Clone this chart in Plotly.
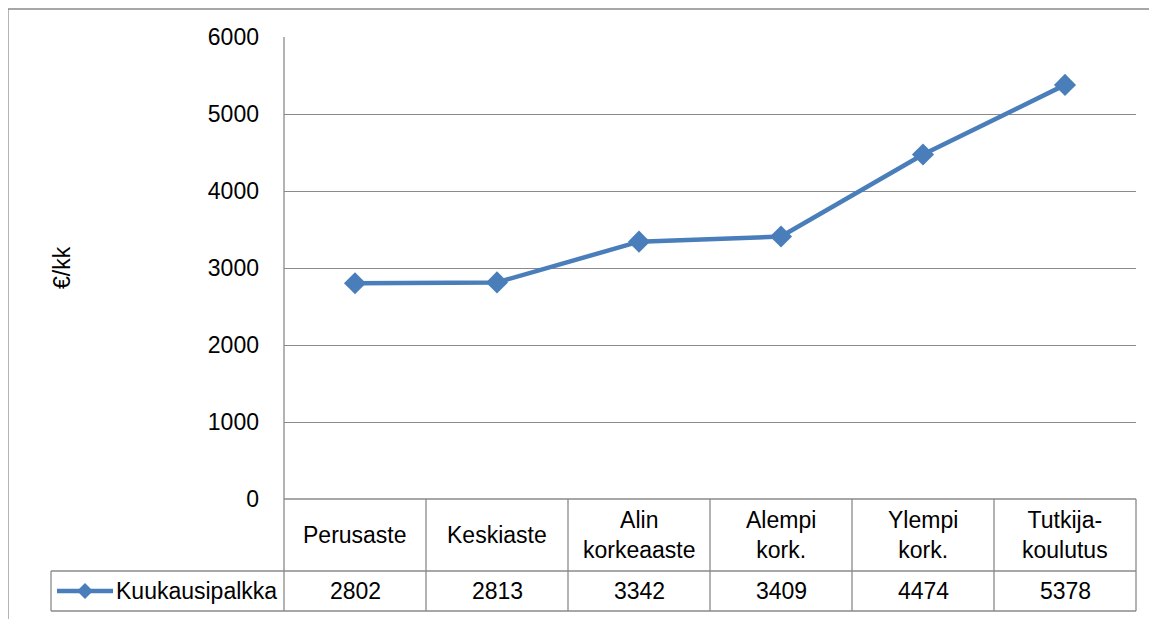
import plotly.graph_objects as go

categories = ["Perusaste", "Keskiaste", "Alin<br>korkeaaste", "Alempi<br>kork.", "Ylempi<br>kork.", "Tutkija-<br>koulutus"]
values = [2802, 2813, 3342, 3409, 4474, 5378]
series_name = "Kuukausipalkka"
y_ticks = [0, 1000, 2000, 3000, 4000, 5000, 6000]
y_title = "€/kk"

OFF = 8  # page body margin
W, H = 1157 - OFF, 619 - OFF
L, R, T, B = 284 - OFF, 1136 - OFF, 37 - OFF, 499 - OFF  # plot area pixels (figure coords)
FONT = "Liberation Sans"
FS = 23
GRAY = "#8a8a8a"
BLUE = "#4a7ebb"

def px(x):
    return (x - OFF - L) / (R - L)

def py(y):
    return (B - (y - OFF)) / (B - T)

fig = go.Figure()
n = len(categories)
fig.add_trace(go.Scatter(
    x=list(range(n)), y=values, mode="lines+markers",
    line=dict(color=BLUE, width=4.5),
    marker=dict(symbol="diamond", size=17, color=BLUE),
    showlegend=False, hoverinfo="skip",
))

shapes = []
def line(x0, y0, x1, y1, color=GRAY, width=1.3):
    shapes.append(dict(type="line", xref="paper", yref="paper",
                       x0=px(x0), y0=py(y0), x1=px(x1), y1=py(y1),
                       line=dict(color=color, width=width)))

# outer chart border (top + left)
line(8, 9, 1157, 9)
line(8, 9, 8, 619)
# y axis line extended through table
line(284, 37, 284, 611)
# table
top, row1, row2 = 499, 571, 611
line(284, top, 1136, top)
line(51, row1, 1136, row1)
line(51, row2, 1136, row2)
line(51, row1, 51, row2)
colw = (1136 - 284) / n
for i in range(1, n + 1):
    line(284 + i * colw, top, 284 + i * colw, row2)

# legend key
line(57, 591, 113, 591, color=BLUE, width=4.5)
cx, cy, d = 85, 591, 8
path = f"M {px(cx - d)} {py(cy)} L {px(cx)} {py(cy - d)} L {px(cx + d)} {py(cy)} L {px(cx)} {py(cy + d)} Z"
shapes.append(dict(type="path", xref="paper", yref="paper", path=path,
                   fillcolor=BLUE, line=dict(color=BLUE, width=0)))

annotations = []
for i, (c, v) in enumerate(zip(categories, values)):
    annotations.append(dict(x=i, y=py((top + row1) / 2), xref="x", yref="paper",
                            text=c, showarrow=False, xanchor="center", yanchor="middle",
                            font=dict(family=FONT, size=FS, color="black")))
    annotations.append(dict(x=i, y=py((row1 + row2) / 2), xref="x", yref="paper",
                            text=str(v), showarrow=False, xanchor="center", yanchor="middle",
                            font=dict(family=FONT, size=FS, color="black")))
annotations.append(dict(x=px(114), y=py((row1 + row2) / 2), xref="paper", yref="paper",
                        text=series_name, showarrow=False, xanchor="left", yanchor="middle",
                        font=dict(family=FONT, size=FS, color="black")))
annotations.append(dict(x=px(62), y=py(268), xref="paper", yref="paper",
                        text=y_title, showarrow=False, textangle=-90,
                        xanchor="center", yanchor="middle",
                        font=dict(family=FONT, size=FS, color="black")))

fig.update_layout(
    width=W, height=H,
    margin=dict(l=L, r=W - R, t=T, b=H - B),
    paper_bgcolor="white", plot_bgcolor="white",
    xaxis=dict(range=[-0.5, n - 0.5], showticklabels=False, showgrid=False,
               zeroline=False, showline=False, fixedrange=True),
    yaxis=dict(range=[0, 6000], tickvals=y_ticks, showgrid=True, gridcolor=GRAY,
               gridwidth=1.3, zeroline=False, showline=False, ticks="",
               ticklabelstandoff=24,
               tickfont=dict(family=FONT, size=FS, color="black")),
    shapes=shapes, annotations=annotations,
)

fig.write_html("out.html")
